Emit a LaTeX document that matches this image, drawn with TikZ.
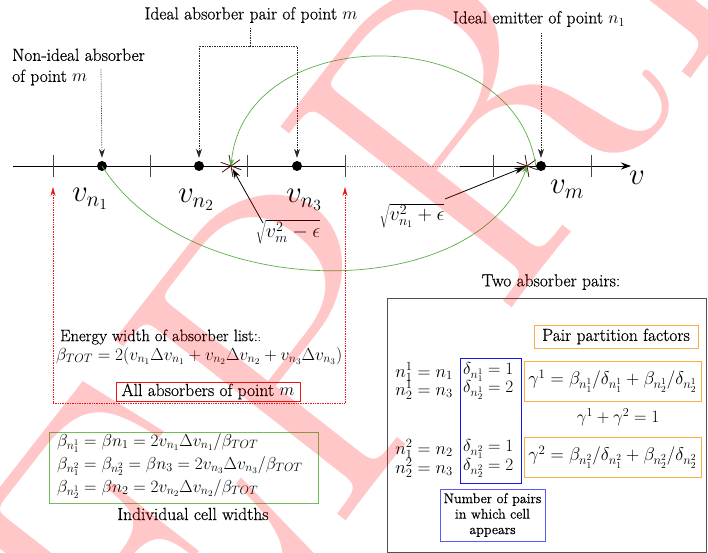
\RequirePackage{fix-cm}
\documentclass[tikz,border=0pt]{standalone}
\usepackage{fontspec}
\setmainfont{Latin Modern Roman}[FakeBold=0.5]
\newfontfamily\wmfont{Latin Modern Roman}
\usetikzlibrary{arrows.meta}
\definecolor{annotgray}{RGB}{40,40,40}
\definecolor{arcgreen}{RGB}{90,175,70}
\definecolor{boxgreen}{RGB}{110,190,90}
\definecolor{pairorange}{RGB}{250,175,70}
\definecolor{deltablue}{RGB}{20,20,235}
\definecolor{notblue}{RGB}{90,90,250}
\definecolor{dotred}{RGB}{235,20,20}
\definecolor{framegray}{RGB}{80,80,80}
\definecolor{tickgray}{RGB}{70,70,70}
\definecolor{starbrown}{RGB}{70,20,20}
\begin{document}
\begin{tikzpicture}[x=1pt,y=-1pt,
  base/.style={inner sep=0pt, font=\fontsize{17.5}{21}\selectfont},
  bigmath/.style={inner sep=0pt, font=\fontsize{31}{31}\selectfont},
  mth/.style={inner sep=0pt, font=\fontsize{17.3}{20}\selectfont},
  dotnode/.style={circle, fill=black, minimum size=10pt, inner sep=0pt},
  annot/.style={densely dotted, line width=0.7pt, annotgray, -{Stealth[length=9pt,width=6pt]}, shorten >=3pt},
  annotline/.style={densely dotted, line width=0.7pt, annotgray},
  redarr/.style={densely dotted, line width=0.7pt, dotred, -{Stealth[length=9pt,width=5pt]}},
  redpath/.style={densely dotted, line width=0.7pt, dotred},
  greenarc/.style={arcgreen, line width=0.7pt, -{Stealth[length=7pt,width=5pt]}},
  blkarr/.style={black, line width=0.8pt, -{Stealth[length=10pt,width=6pt]}, shorten >=3pt},
  tick/.style={tickgray, line width=0.8pt},
  starline/.style={starbrown, line width=0.8pt},
  ]
\useasboundingbox (0,0) rectangle (708,552);

% axis
\coordinate (ax0) at (13,166);
\coordinate (axd1) at (345,166);
\coordinate (axd2) at (460,166);
\coordinate (axend) at (631,166);
\draw[line width=0.8pt] (ax0) -- (axd1);
\draw[densely dotted, gray, line width=0.7pt] (axd1) -- (axd2);
\draw[line width=0.8pt, -{Stealth[length=10pt,width=7pt]}] (axd2) -- (axend);
\foreach \x in {53,150,247,345,493,591} \draw[tick] (\x,155) -- (\x,177);

% dots
\node[dotnode] (d1) at (102,166) {};
\node[dotnode] (d2) at (199,166) {};
\node[dotnode] (d3) at (297,166) {};
\node[dotnode] (dm) at (541,166) {};

% stars
\coordinate (x1) at (231,166);
\coordinate (x2) at (527,166);
\foreach \a in {20,80,145} {
  \draw[starline, shift={(x1)}] (\a:11) -- (\a+180:11);
  \draw[starline, shift={(x2)}] (\a:11) -- (\a+180:11);
}

% labels on axis
\node[bigmath] (lv1) at (90,199) {$v_{n_1}$};
\node[bigmath] (lv2) at (196,200) {$v_{n_2}$};
\node[bigmath] (lv3) at (304,200) {$v_{n_3}$};
\node[bigmath] (lvm) at (567,189) {$v_m$};
\node[bigmath] (lv) at (637,178) {$v$};

% top annotations
\node[base, align=left, anchor=west] (nonideal) at (12,67) {Non-ideal absorber\\of point $m$};
\node[base] (pairtxt) at (251,15) {Ideal absorber pair of point $m$};
\node[base] (emtxt) at (539,19) {Ideal emitter of point $n_1$};
\coordinate (nia) at (101,69);
\draw[annot] (nia) -- (d1.north);
\coordinate (pa) at (250,28);
\coordinate (pb) at (250,46);
\draw[annotline] (pa) -- (pb);
\draw[annot] (pb) -| (d2.north);
\draw[annot] (pb) -| (d3.north);
\coordinate (ea) at (541,33);
\draw[annot] (ea) -- (dm.north);

% green arcs
\draw[greenarc] (d1.center) .. controls (190,305) and (480,305) .. (x2);
\draw[greenarc] (dm.west) .. controls (515,20) and (245,20) .. (x1);

% sqrt labels
\node[mth, font=\fontsize{20}{22}\selectfont] (s1) at (288,232) {$\sqrt{v_m^2-\epsilon}$};
\node[mth, font=\fontsize{20}{22}\selectfont] (s2) at (412,216) {$\sqrt{v_{n_1}^2+\epsilon}$};
\coordinate (s1a) at (263,223);
\coordinate (s2a) at (445,199);
\draw[blkarr] (s1a) -- (x1);
\draw[blkarr] (s2a) -- (x2);

% red dotted frame
\coordinate (rl) at (53,403);
\coordinate (rr) at (345,403);
\coordinate (rlt) at (53,187);
\coordinate (rrt) at (345,187);
\draw[redpath] (rl) -- (rr);
\draw[redarr] (rl) -- (rlt);
\draw[redarr] (rr) -- (rrt);

\node[base, font=\fontsize{16.5}{20}\selectfont, anchor=west] (enw) at (60,337) {Energy width of absorber list:{\fontsize{9}{9}\selectfont :}};
\node[mth, font=\fontsize{17.4}{20}\selectfont, anchor=west] (btot) at (56,356) {$\beta_{TOT} = 2(v_{n_1}\Delta v_{n_1} + v_{n_2}\Delta v_{n_2} + v_{n_3}\Delta v_{n_3})$};
\node[base, draw=dotred, line width=0.8pt, minimum width=184pt, minimum height=19pt] (allabs) at (208,391.5) {All absorbers of point $m$};

% green box
\node[draw=boxgreen, line width=0.8pt, minimum width=269pt, minimum height=71pt, anchor=north west, inner sep=0pt] (gbox) at (49,432) {};
\node[mth, anchor=west] (bw1) at (57,443) {$\beta_{n_1^1} = \beta n_1 = 2v_{n_1}\Delta v_{n_1}/\beta_{TOT}$};
\node[mth, anchor=west] (bw2) at (57,466) {$\beta_{n_1^2} = \beta_{n_2^2} = \beta n_3 = 2v_{n_3}\Delta v_{n_3}/\beta_{TOT}$};
\node[mth, anchor=west] (bw3) at (57,489) {$\beta_{n_2^1} = \beta n_2 = 2v_{n_2}\Delta v_{n_2}/\beta_{TOT}$};
\node[base] (icw) at (193,514) {Individual cell widths};

% right box
\node[draw=framegray, line width=1.3pt, minimum width=319pt, minimum height=254pt, anchor=north west, inner sep=0pt] (bigbox) at (387,297.5) {};
\node[base] (twoabs) at (551,282) {Two absorber pairs:};
\node[base, draw=pairorange, line width=1pt, minimum width=164pt, minimum height=23pt] (ppf) at (616,336.5) {Pair partition factors};
\node[draw=deltablue, line width=1pt, minimum width=61pt, minimum height=125pt, inner sep=0pt] (dbox) at (490.5,420.5) {};
\node[mth, font=\fontsize{18.4}{21}\selectfont, draw=pairorange, line width=1pt, minimum width=177pt, minimum height=40pt] (g1box) at (612.5,381) {$\gamma^1 = \beta_{n_1^1}/\delta_{n_1^1} + \beta_{n_2^1}/\delta_{n_2^1}$};
\node[mth] (gsum) at (618,417) {$\gamma^1+\gamma^2=1$};
\node[mth, font=\fontsize{18.4}{21}\selectfont, draw=pairorange, line width=1pt, minimum width=177pt, minimum height=40pt] (g2box) at (612.5,457) {$\gamma^2 = \beta_{n_1^2}/\delta_{n_1^2} + \beta_{n_2^2}/\delta_{n_2^2}$};
\node[mth, font=\fontsize{18}{21}\selectfont, anchor=east] (na1) at (453,372) {$n_1^1 = n_1$};
\node[mth, font=\fontsize{18}{21}\selectfont, anchor=east] (na2) at (453,390) {$n_2^1 = n_3$};
\node[mth, font=\fontsize{18}{21}\selectfont, anchor=east] (nb1) at (453,449) {$n_1^2 = n_2$};
\node[mth, font=\fontsize{18}{21}\selectfont, anchor=east] (nb2) at (453,468) {$n_2^2 = n_3$};
\node[mth, anchor=west] (da1) at (463,372) {$\delta_{n_1^1} = 1$};
\node[mth, anchor=west] (da2) at (463,390) {$\delta_{n_2^1} = 2$};
\node[mth, anchor=west] (db1) at (463,449) {$\delta_{n_1^2} = 1$};
\node[mth, anchor=west] (db2) at (463,468) {$\delta_{n_2^2} = 2$};
\node[draw=notblue, line width=1pt, minimum width=105pt, minimum height=52pt, align=center, font=\fontsize{14}{15.5}\selectfont, inner sep=0pt] (nump) at (492.5,515) {Number of pairs\\in which cell\\appears};

% watermark
\node[text=red, text opacity=0.22, rotate=52, font=\wmfont\fontsize{430}{430}\selectfont, inner sep=0pt] (wm) at (360,270) {PREPRINT};
\end{tikzpicture}
\end{document}
